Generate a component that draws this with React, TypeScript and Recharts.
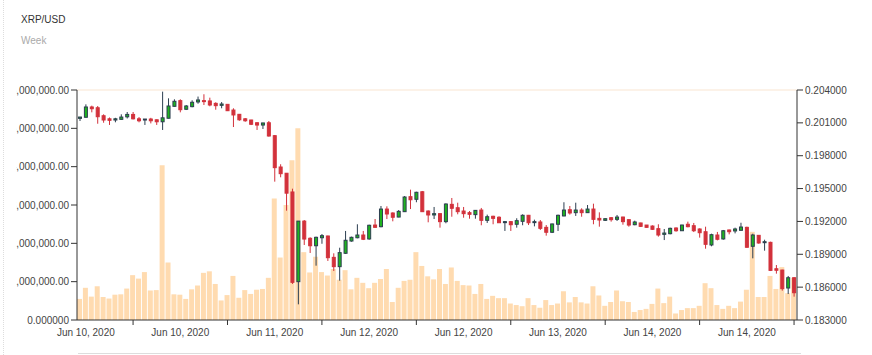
import { ComposedChart, Bar, XAxis, YAxis, ReferenceLine } from 'recharts';

// hourly candles, XRP/USD (one week view)
const OPEN = [
  0.20141, 0.20151, 0.20245, 0.20238, 0.20165, 0.20137, 0.20126, 0.20132, 0.20155, 0.20177,
  0.20137, 0.20126, 0.20135, 0.20128, 0.2011, 0.20142, 0.20251, 0.20303, 0.20224, 0.20248,
  0.20291, 0.20303, 0.203, 0.20278, 0.2026, 0.20269, 0.20217, 0.20178, 0.20137, 0.20126,
  0.20101, 0.2008, 0.20101, 0.19983, 0.19697, 0.1964, 0.19469, 0.1865, 0.19203, 0.19046,
  0.18978, 0.19051, 0.19067, 0.18872, 0.18787, 0.18909, 0.19021, 0.19051, 0.19076, 0.1904,
  0.19167, 0.19152, 0.19313, 0.19277, 0.1924, 0.19289, 0.19426, 0.19402, 0.19471, 0.19295,
  0.19259, 0.19271, 0.19198, 0.19356, 0.19325, 0.19295, 0.1928, 0.19262, 0.19304, 0.1921,
  0.19247, 0.19238, 0.19192, 0.19198, 0.19174, 0.19201, 0.19256, 0.19192, 0.19195, 0.19146,
  0.19101, 0.19174, 0.1925, 0.19307, 0.1928, 0.19304, 0.1928, 0.19313, 0.19228, 0.1921,
  0.19234, 0.19219, 0.1924, 0.19216, 0.1917, 0.19186, 0.19167, 0.19158, 0.19134, 0.19082,
  0.19088, 0.1914, 0.19115, 0.19174, 0.19161, 0.19131, 0.19106, 0.18985, 0.19076, 0.1904,
  0.19122, 0.19113, 0.19119, 0.19146, 0.18973, 0.19073, 0.19006, 0.19009, 0.18768, 0.18756,
  0.18592, 0.18686,
];
const HIGH = [
  0.20155, 0.20269, 0.20257, 0.20254, 0.20178, 0.20149, 0.20146, 0.20178, 0.20199, 0.20199,
  0.20153, 0.20135, 0.20146, 0.20131, 0.20385, 0.20324, 0.20315, 0.20315, 0.20263, 0.20306,
  0.2034, 0.20361, 0.2033, 0.20288, 0.2029, 0.20269, 0.20233, 0.20181, 0.20144, 0.20128,
  0.20105, 0.20101, 0.20117, 0.19989, 0.19722, 0.19642, 0.19499, 0.19203, 0.19213, 0.19055,
  0.19061, 0.19085, 0.1907, 0.18909, 0.1896, 0.19113, 0.19061, 0.19174, 0.19113, 0.1917,
  0.19222, 0.19341, 0.19338, 0.19283, 0.19304, 0.19432, 0.1949, 0.19471, 0.19478, 0.19301,
  0.19332, 0.19274, 0.19365, 0.19414, 0.19371, 0.19332, 0.19295, 0.19304, 0.19323, 0.19262,
  0.19252, 0.19247, 0.19204, 0.19204, 0.19229, 0.19265, 0.19259, 0.19216, 0.19213, 0.19167,
  0.19179, 0.19262, 0.19375, 0.19341, 0.19371, 0.1932, 0.1935, 0.19362, 0.19283, 0.19228,
  0.1924, 0.19259, 0.19243, 0.19219, 0.19207, 0.19188, 0.19167, 0.19164, 0.19174, 0.19131,
  0.19143, 0.19146, 0.1917, 0.19198, 0.19186, 0.19137, 0.19152, 0.19088, 0.19104, 0.19122,
  0.19125, 0.19143, 0.19188, 0.19152, 0.19088, 0.19076, 0.19033, 0.19015, 0.18802, 0.18759,
  0.18702, 0.1869,
];
const LOW = [
  0.20117, 0.20148, 0.20196, 0.20092, 0.20101, 0.20081, 0.20105, 0.20128, 0.2014, 0.20131,
  0.20105, 0.20081, 0.20095, 0.20081, 0.20035, 0.2014, 0.20248, 0.20196, 0.20217, 0.20242,
  0.20275, 0.20263, 0.20251, 0.2022, 0.20233, 0.20208, 0.20062, 0.20119, 0.2011, 0.2008,
  0.20035, 0.20044, 0.19974, 0.19563, 0.19603, 0.19298, 0.18629, 0.18443, 0.18985, 0.18912,
  0.18796, 0.18996, 0.18839, 0.18747, 0.18659, 0.18903, 0.19015, 0.19046, 0.1903, 0.19033,
  0.19143, 0.19146, 0.19222, 0.19201, 0.19238, 0.19286, 0.19313, 0.19375, 0.19286, 0.19192,
  0.19222, 0.19143, 0.19183, 0.19243, 0.19265, 0.19234, 0.19225, 0.19225, 0.19165, 0.19186,
  0.19174, 0.19186, 0.19113, 0.19113, 0.19143, 0.19165, 0.19167, 0.19155, 0.19122, 0.1907,
  0.19094, 0.19113, 0.19247, 0.19262, 0.1925, 0.19243, 0.19277, 0.19174, 0.19152, 0.19204,
  0.19198, 0.19204, 0.1917, 0.19152, 0.19165, 0.19149, 0.19143, 0.19122, 0.19061, 0.1903,
  0.19082, 0.19106, 0.19113, 0.19146, 0.19103, 0.19052, 0.18951, 0.18973, 0.19027, 0.19033,
  0.19082, 0.19091, 0.19115, 0.1896, 0.18863, 0.18997, 0.18933, 0.18747, 0.18723, 0.18568,
  0.18537, 0.18513,
];
const CLOSE = [
  0.20153, 0.20245, 0.20229, 0.20156, 0.20126, 0.20123, 0.20137, 0.20153, 0.20177, 0.20137,
  0.20119, 0.20135, 0.20119, 0.2011, 0.20146, 0.20254, 0.20297, 0.2022, 0.20254, 0.20288,
  0.20309, 0.20294, 0.20263, 0.20257, 0.20272, 0.20211, 0.20172, 0.20128, 0.20119, 0.20087,
  0.2008, 0.20099, 0.1998, 0.19691, 0.19636, 0.19458, 0.18644, 0.19203, 0.19039, 0.18978,
  0.19055, 0.1907, 0.18869, 0.18787, 0.18915, 0.19028, 0.19055, 0.19076, 0.19037, 0.19165,
  0.19146, 0.19313, 0.19268, 0.19238, 0.19292, 0.19423, 0.19398, 0.19466, 0.19289, 0.19259,
  0.19271, 0.19198, 0.19359, 0.1932, 0.19289, 0.19271, 0.19265, 0.19301, 0.1921, 0.19243,
  0.19228, 0.19188, 0.19198, 0.1917, 0.19207, 0.19256, 0.19188, 0.19198, 0.19137, 0.19101,
  0.19177, 0.19256, 0.19304, 0.19277, 0.19304, 0.1928, 0.19313, 0.19219, 0.19213, 0.19225,
  0.19216, 0.1924, 0.19198, 0.19167, 0.19195, 0.19155, 0.19146, 0.19128, 0.19076, 0.19094,
  0.19137, 0.19115, 0.19167, 0.19152, 0.19115, 0.19097, 0.18991, 0.19079, 0.19037, 0.19115,
  0.19106, 0.19131, 0.19149, 0.18964, 0.19076, 0.19003, 0.19015, 0.18753, 0.18754, 0.18586,
  0.18686, 0.18549,
];
// volume in millions
const VOLUME_M = [
  0.55, 0.84, 0.61, 0.88, 0.6, 0.56, 0.66, 0.67, 0.82, 1.17,
  1.08, 1.25, 0.77, 0.78, 4.04, 1.5, 0.67, 0.66, 0.55, 0.8,
  0.9, 1.23, 1.27, 0.94, 0.51, 0.65, 1.15, 0.58, 0.78, 0.68,
  0.79, 0.81, 1.1, 3.17, 1.63, 3.0, 4.17, 5.0, 1.77, 1.24,
  1.65, 1.25, 1.16, 1.33, 1.05, 1.3, 0.8, 1.1, 0.97, 0.83,
  0.97, 1.07, 1.33, 0.47, 0.84, 1.02, 1.05, 1.77, 1.41, 1.14,
  1.06, 1.33, 0.94, 1.37, 1.02, 0.91, 0.9, 0.68, 0.94, 0.55,
  0.63, 0.57, 0.57, 0.43, 0.39, 0.36, 0.57, 0.39, 0.32, 0.52,
  0.39, 0.43, 0.75, 0.46, 0.6, 0.46, 0.43, 0.88, 0.64, 0.37,
  0.47, 0.77, 0.49, 0.47, 0.21, 0.26, 0.29, 0.42, 0.82, 0.44,
  0.61, 0.17, 0.26, 0.31, 0.31, 0.37, 0.96, 0.83, 0.39, 0.29,
  0.37, 0.31, 0.48, 0.79, 2.3, 0.6, 0.6, 1.15, 0.81, 1.38,
  0.7, 1.1,
];

const TICK_INDEX = [9, 25, 41, 57, 73, 89, 105, 121];
const TICK_LABELS = [
  'Jun 10, 2020', 'Jun 10, 2020', 'Jun 11, 2020', 'Jun 12, 2020',
  'Jun 12, 2020', 'Jun 13, 2020', 'Jun 14, 2020', 'Jun 14, 2020',
];
const VOL_TICKS = [0, 1000000, 2000000, 3000000, 4000000, 5000000, 6000000];
const PRICE_TICKS = [0.183, 0.186, 0.189, 0.192, 0.195, 0.198, 0.201, 0.204];

const RED = '#d2313b';
const GREEN = '#1fb41f';
const DARK = '#2c3e50';
const VOL_COLOR = '#ffdbb0';
const AXIS = '#333';
const TEXT = '#444';

const W = 856;
const H = 295;
const PLOT_W = 720;

const data = OPEN.map((o, i) => ({
  i,
  open: o,
  high: HIGH[i],
  low: LOW[i],
  close: CLOSE[i],
  range: [LOW[i], HIGH[i]],
  volume: VOLUME_M[i] * 1000000,
}));

function Candle(props: any) {
  const { x, y, width, height, payload } = props;
  if (!payload) return null;
  const { open, close, high, low } = payload;
  const up = close >= open;
  const top = Math.min(y, y + height);
  const h = Math.abs(height);
  const span = high - low || 1;
  const at = (v: number) => top + ((high - v) / span) * h;
  const bodyTop = at(Math.max(open, close));
  const bodyBot = at(Math.min(open, close));
  const cx = x + width / 2;
  return (
    <g>
      <line x1={cx} x2={cx} y1={top} y2={top + h} stroke={up ? DARK : RED} strokeWidth={1} />
      <rect
        x={x + 0.5}
        y={bodyTop}
        width={width - 1}
        height={Math.max(bodyBot - bodyTop, 1)}
        fill={up ? GREEN : RED}
        stroke={up ? DARK : RED}
        strokeWidth={1}
      />
    </g>
  );
}

// label sits half a tick interval to the left of its tick mark
function DateTick(props: any) {
  const { x, y, payload } = props;
  const k = TICK_INDEX.indexOf(payload.value);
  const half = (PLOT_W / data.length) * 8;
  return (
    <text x={x - half} y={y + 2} dy="0.71em" textAnchor="middle" fontSize={10} fill={TEXT}>
      {TICK_LABELS[k]}
    </text>
  );
}

const fmtVol = (v: number) =>
  v === 0 ? '0.000000' : v.toLocaleString('en-US', { minimumFractionDigits: 2, maximumFractionDigits: 2 });

export default function App() {
  return (
    <div
      style={{
        position: 'absolute',
        left: 0,
        top: 0,
        width: 872,
        height: 355,
        background: '#fff',
        fontFamily: '"Liberation Sans", Arial, sans-serif',
        overflow: 'hidden',
      }}
    >
      <div style={{ position: 'absolute', left: 3, top: 0, bottom: 0, borderLeft: '1px dotted #ddd' }} />
      <div style={{ position: 'absolute', left: 21, top: 15, fontSize: 10, lineHeight: '10px', color: '#333' }}>
        XRP/USD
      </div>
      <div style={{ position: 'absolute', left: 21, top: 36, fontSize: 10, lineHeight: '10px', color: '#aaa' }}>
        Week
      </div>
      <div style={{ position: 'absolute', left: 78, top: 353, width: 723, height: 1, background: '#ddd' }} />
      <div style={{ position: 'absolute', left: 16, top: 60 }}>
        <ComposedChart
          width={W}
          height={H}
          data={data}
          margin={{ top: 30, right: 15, bottom: 5, left: 0 }}
        >
          <XAxis
            dataKey="i"
            type="category"
            ticks={TICK_INDEX}
            interval={0}
            tick={<DateTick />}
            tickSize={5}
            height={30}
            axisLine={{ stroke: AXIS }}
            tickLine={{ stroke: AXIS }}
          />
          <XAxis xAxisId="vol" dataKey="i" type="category" hide />
          <YAxis
            yAxisId="vol"
            orientation="left"
            width={61}
            domain={[0, 6000000]}
            ticks={VOL_TICKS}
            tickFormatter={fmtVol}
            tick={{ fontSize: 10, fill: TEXT }}
            axisLine={{ stroke: AXIS }}
            tickLine={{ stroke: AXIS }}
          />
          <YAxis
            yAxisId="px"
            orientation="right"
            width={60}
            domain={[0.183, 0.204]}
            ticks={PRICE_TICKS}
            tickFormatter={(v: number) => v.toFixed(6)}
            tick={{ fontSize: 10, fill: TEXT }}
            axisLine={{ stroke: AXIS }}
            tickLine={{ stroke: AXIS }}
          />
          <ReferenceLine yAxisId="vol" y={6000000} stroke="#fcf2e8" strokeWidth={2} />
          <Bar
            xAxisId="vol"
            yAxisId="vol"
            dataKey="volume"
            fill={VOL_COLOR}
            barSize={5}
            isAnimationActive={false}
          />
          <Bar
            yAxisId="px"
            dataKey="range"
            barSize={4}
            shape={(p: any) => <Candle {...p} />}
            isAnimationActive={false}
          />
        </ComposedChart>
      </div>
    </div>
  );
}
